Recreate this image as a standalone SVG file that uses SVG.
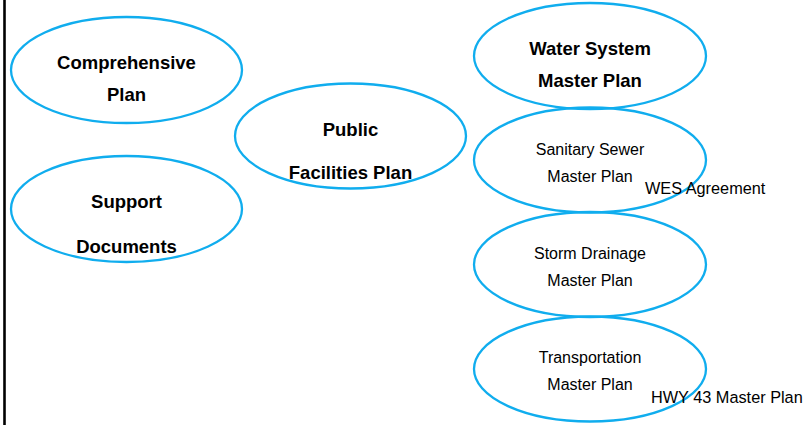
<svg xmlns="http://www.w3.org/2000/svg" width="808" height="425" viewBox="0 0 808 425">
<style>
.node ellipse{fill:none;stroke:#10ADEE;stroke-width:2.3}
.b{font-family:"Liberation Sans",Arial,sans-serif;font-weight:bold;font-size:18.5px;fill:#000;text-anchor:middle}
.r{font-family:"Liberation Sans",Arial,sans-serif;font-size:16px;fill:#000;text-anchor:middle}
.lbl{font-family:"Liberation Sans",Arial,sans-serif;font-size:16.3px;fill:#000}
</style>
<rect width="808" height="425" fill="#fff"/>
<line x1="4.5" y1="0" x2="4.5" y2="425" stroke="#000" stroke-width="2.6"/>
<g id="connectors"></g>
<g id="comprehensive" class="node">
<ellipse cx="126.5" cy="70" rx="115.5" ry="53"/>
<text class="b" x="126.5" y="69">Comprehensive</text>
<text class="b" x="126.5" y="101">Plan</text>
</g>
<g id="support" class="node">
<ellipse cx="126.5" cy="209" rx="115.5" ry="53"/>
<text class="b" x="126.5" y="208">Support</text>
<text class="b" x="126.5" y="253">Documents</text>
</g>
<g id="public" class="node">
<ellipse cx="350.5" cy="136" rx="115.5" ry="52.5"/>
<text class="b" x="350.5" y="136">Public</text>
<text class="b" x="350.5" y="179">Facilities Plan</text>
</g>
<g id="water" class="node">
<ellipse cx="590" cy="56" rx="116" ry="53"/>
<text class="b" x="590" y="55">Water System</text>
<text class="b" x="590" y="87">Master Plan</text>
</g>
<g id="sanitary" class="node">
<ellipse cx="590" cy="160" rx="116" ry="52.5"/>
<text class="r" x="590" y="155">Sanitary Sewer</text>
<text class="r" x="590" y="182">Master Plan</text>
</g>
<g id="storm" class="node">
<ellipse cx="590" cy="264.5" rx="116" ry="52.5"/>
<text class="r" x="590" y="259">Storm Drainage</text>
<text class="r" x="590" y="286">Master Plan</text>
</g>
<g id="transportation" class="node">
<ellipse cx="590" cy="369" rx="116" ry="52.5"/>
<text class="r" x="590" y="363">Transportation</text>
<text class="r" x="590" y="390">Master Plan</text>
</g>
<g id="wes">
<text class="lbl" x="645" y="194">WES Agreement</text>
</g>
<g id="hwy43">
<text class="lbl" x="651" y="403">HWY 43 Master Plan</text>
</g>
</svg>
